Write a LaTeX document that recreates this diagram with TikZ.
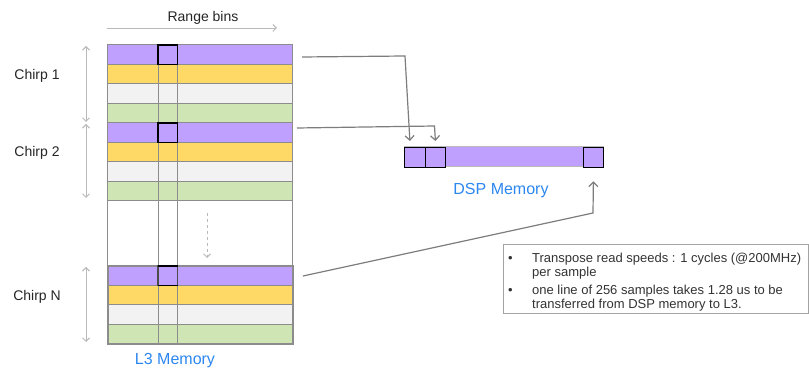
\documentclass[tikz,border=0pt]{standalone}
\usepackage{fontspec}
\setmainfont{Liberation Sans}
\usetikzlibrary{arrows.meta}
\definecolor{purp}{RGB}{192,160,255}
\definecolor{orng}{RGB}{255,217,102}
\definecolor{lgry}{RGB}{242,242,242}
\definecolor{lgrn}{RGB}{207,230,180}
\definecolor{bord}{RGB}{140,140,140}
\definecolor{conn}{RGB}{125,125,125}
\definecolor{lite}{RGB}{185,185,185}
\definecolor{memblue}{RGB}{45,135,240}
\tikzset{
  rowcell/.style={draw=bord, line width=1pt},
  hilite/.style={draw=black, line width=1.3pt},
  link/.style={draw=conn, line width=1.2pt, -{Straight Barb[length=4.5pt,width=9pt]}},
  span/.style={draw=lite, line width=1pt, {Straight Barb[length=3.5pt,width=7pt]}-{Straight Barb[length=3.5pt,width=7pt]}},
  lbl/.style={font=\fontsize{14}{16}\selectfont, text=black!85, inner sep=0pt},
  memlbl/.style={font=\fontsize{16}{18}\selectfont, text=memblue, inner sep=0pt},
  dspcell/.style={draw=black, line width=1.3pt, fill=purp, minimum width=20.5pt, minimum height=20pt, inner sep=0pt},
}
\begin{document}
\begin{tikzpicture}[x=1pt,y=-1pt]
\useasboundingbox (0,0) rectangle (809,371);
\fill[white] (0,0) rectangle (809,371);

% Range bins
\node[lbl, anchor=base] (rb) at (203,21.7) {Range bins};
\coordinate (rbA) at (107,28);
\coordinate (rbB) at (277,28);
\draw[draw=lite, line width=0.9pt, -{Straight Barb[length=3.5pt,width=7pt]}] (rbA) -- (rbB);

% outer L3 frame
\draw[rowcell] (107,45) rectangle (292,344);

% Chirp 1
\draw[rowcell, fill=purp] (107,45) rectangle (292,64.5);
\draw[rowcell, fill=orng] (107,64.5) rectangle (292,84);
\draw[rowcell, fill=lgry] (107,84) rectangle (292,103.5);
\draw[rowcell, fill=lgrn] (107,103.5) rectangle (292,123);
% Chirp 2
\draw[rowcell, fill=purp] (107,123) rectangle (292,142.5);
\draw[rowcell, fill=orng] (107,142.5) rectangle (292,162);
\draw[rowcell, fill=lgry] (107,162) rectangle (292,181.5);
\draw[rowcell, fill=lgrn] (107,181.5) rectangle (292,200.5);
% Chirp N
\draw[rowcell, fill=purp] (108,266) rectangle (293,285.5);
\draw[rowcell, fill=orng] (108,285.5) rectangle (293,305);
\draw[rowcell, fill=lgry] (108,305) rectangle (293,324.5);
\draw[rowcell, fill=lgrn] (108,324.5) rectangle (293,344);
\draw[draw=bord, line width=2pt] (108,266) rectangle (293,344);

% column
\draw[rowcell] (158,45) rectangle (177.5,345);

% highlighted cells
\draw[hilite] (158,45) rectangle (177.5,64.5);
\draw[hilite] (158,123) rectangle (177.5,142.5);
\draw[draw=black!70, line width=1.3pt] (158,266) rectangle (177.5,285.5);
\draw[draw=black, line width=1.6pt] (158,266) -- (177.5,266) (158,285.5) -- (177.5,285.5);

% chirp labels and spans
\node[lbl, anchor=base] (ch1) at (37,80) {Chirp 1};
\node[lbl, anchor=base] (ch2) at (37,157) {Chirp 2};
\node[lbl, anchor=base] (chN) at (37,301) {Chirp N};
\coordinate (s1a) at (86,46);  \coordinate (s1b) at (86,122);
\coordinate (s2a) at (86,124); \coordinate (s2b) at (86,198);
\coordinate (sNa) at (86,267); \coordinate (sNb) at (86,342);
\draw[span] (s1a) -- (s1b);
\draw[span] (s2a) -- (s2b);
\draw[span] (sNa) -- (sNb);

% dashed continuation arrow
\coordinate (dA) at (207,213);
\coordinate (dB) at (207,258);
\draw[draw=lite, line width=1pt, dashed, -{Straight Barb[length=3.5pt,width=7pt]}] (dA) -- (dB);

\node[memlbl, anchor=base] (l3) at (175,365) {L3 Memory};

% DSP memory
\draw[draw=bord!60, line width=1pt, fill=purp] (404,147) rectangle (603,167);
\node[dspcell, anchor=north west] (d1) at (404,147) {};
\node[dspcell, anchor=north west] (d2) at (424.5,147) {};
\node[dspcell, anchor=north west] (dN) at (582.5,147) {};
\node[memlbl, anchor=base] (dsp) at (501,195) {DSP Memory};

% connectors
\coordinate (r1) at (302,57);
\coordinate (r2) at (297,128);
\coordinate (rN) at (303,276);
\draw[link] (r1) -- (405,56) -- ([xshift=-5pt,yshift=6pt]d1.north);
\draw[link] (r2) -- (434.5,126) -- ([yshift=6pt]d2.north);
\draw[link] (rN) -- (593,213) -- ([yshift=-13pt]dN.south);

% note box
\node[draw=bord!80, line width=1pt, minimum width=305pt, minimum height=69pt, anchor=north west, inner sep=0pt] (note) at (503,244) {};
\node[anchor=north west, inner sep=0pt, font=\fontsize{13}{14}\selectfont, text=black!80] (notetxt) at (508,253) {%
\begin{tabular}{@{}p{14pt}@{\hspace{10pt}}l@{}}
\textbullet & Transpose read speeds : 1 cycles (@200MHz)\\
 & per sample\\[4pt]
\textbullet & one line of 256 samples takes 1.28 us to be\\
 & transferred from DSP memory to L3.
\end{tabular}};
\end{tikzpicture}
\end{document}
